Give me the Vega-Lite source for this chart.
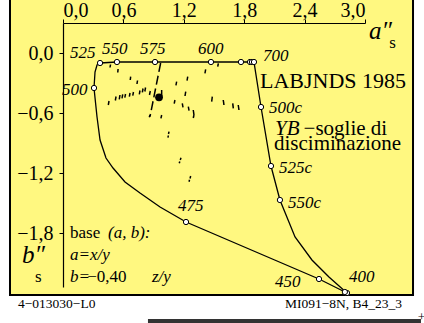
{
  "$schema": "https://vega.github.io/schema/vega-lite/v6.json",
  "width": 302,
  "height": 264,
  "autosize": "none",
  "padding": {"left": 63, "top": 23, "right": 59, "bottom": 36},
  "background": "white",
  "config": {
    "view": {"stroke": null},
    "axis": {
      "grid": false,
      "labelFont": "Liberation Serif",
      "labelFontSize": 20,
      "labelColor": "black",
      "domainColor": "black",
      "domainWidth": 1.2,
      "tickColor": "black",
      "tickSize": 4,
      "title": null
    },
    "text": {"font": "Liberation Serif", "align": "left", "baseline": "alphabetic", "color": "black"}
  },
  "datasets": {
    "bg": [{"a": -0.5265, "a2": 3.477, "b": 0.54, "b2": -2.42}],
    "bar": [{"a": 0.844, "a2": 3.556, "b": -2.66, "b2": -2.71}],
    "locus": [
      {"i": 1, "a": 2.821, "b": -2.40},
      {"i": 2, "a": 2.543, "b": -2.26},
      {"i": 3, "a": 1.222, "b": -1.69},
      {"i": 4, "a": 0.964, "b": -1.54},
      {"i": 5, "a": 0.765, "b": -1.40},
      {"i": 6, "a": 0.616, "b": -1.29},
      {"i": 7, "a": 0.497, "b": -1.15},
      {"i": 8, "a": 0.427, "b": -1.05},
      {"i": 9, "a": 0.368, "b": -0.87},
      {"i": 10, "a": 0.338, "b": -0.64},
      {"i": 11, "a": 0.308, "b": -0.35},
      {"i": 12, "a": 0.318, "b": -0.19},
      {"i": 13, "a": 0.338, "b": -0.12},
      {"i": 14, "a": 0.368, "b": -0.10},
      {"i": 15, "a": 0.536, "b": -0.09},
      {"i": 16, "a": 0.914, "b": -0.09},
      {"i": 17, "a": 1.470, "b": -0.09},
      {"i": 18, "a": 1.768, "b": -0.09},
      {"i": 19, "a": 1.858, "b": -0.09},
      {"i": 20, "a": 1.877, "b": -0.09},
      {"i": 21, "a": 1.897, "b": -0.09},
      {"i": 22, "a": 1.967, "b": -0.54},
      {"i": 23, "a": 2.066, "b": -1.13},
      {"i": 24, "a": 2.155, "b": -1.47},
      {"i": 25, "a": 2.305, "b": -1.84},
      {"i": 26, "a": 2.473, "b": -2.07},
      {"i": 27, "a": 2.642, "b": -2.24},
      {"i": 28, "a": 2.821, "b": -2.40}
    ],
    "pts": [
      {"a": 2.821, "b": -2.40},
      {"a": 2.800, "b": -2.39},
      {"a": 2.543, "b": -2.26},
      {"a": 1.222, "b": -1.69},
      {"a": 0.308, "b": -0.35},
      {"a": 0.368, "b": -0.10},
      {"a": 0.536, "b": -0.09},
      {"a": 0.914, "b": -0.09},
      {"a": 1.470, "b": -0.09},
      {"a": 1.768, "b": -0.09},
      {"a": 1.858, "b": -0.09},
      {"a": 1.877, "b": -0.09},
      {"a": 1.897, "b": -0.09},
      {"a": 1.967, "b": -0.54},
      {"a": 2.066, "b": -1.13},
      {"a": 2.155, "b": -1.47}
    ],
    "dashes": [
      {"a": 0.472, "b": -0.115, "a2": 0.467, "b2": -0.145},
      {"a": 0.547, "b": -0.16, "a2": 0.544, "b2": -0.195},
      {"a": 0.672, "b": -0.237, "a2": 0.668, "b2": -0.27},
      {"a": 0.740, "b": -0.275, "a2": 0.735, "b2": -0.31},
      {"a": 0.457, "b": -0.48, "a2": 0.450, "b2": -0.52},
      {"a": 0.527, "b": -0.435, "a2": 0.520, "b2": -0.475},
      {"a": 0.566, "b": -0.42, "a2": 0.559, "b2": -0.463},
      {"a": 0.593, "b": -0.413, "a2": 0.586, "b2": -0.453},
      {"a": 0.621, "b": -0.41, "a2": 0.614, "b2": -0.447},
      {"a": 0.666, "b": -0.40, "a2": 0.659, "b2": -0.437},
      {"a": 0.700, "b": -0.39, "a2": 0.693, "b2": -0.427},
      {"a": 0.765, "b": -0.375, "a2": 0.758, "b2": -0.413},
      {"a": 0.795, "b": -0.355, "a2": 0.788, "b2": -0.393},
      {"a": 0.820, "b": -0.345, "a2": 0.813, "b2": -0.385},
      {"a": 0.867, "b": -0.38, "a2": 0.859, "b2": -0.42},
      {"a": 0.980, "b": -0.37, "a2": 0.980, "b2": -0.437},
      {"a": 1.129, "b": -0.287, "a2": 1.122, "b2": -0.323},
      {"a": 1.239, "b": -0.237, "a2": 1.232, "b2": -0.277},
      {"a": 1.219, "b": -0.387, "a2": 1.212, "b2": -0.43},
      {"a": 1.112, "b": -0.47, "a2": 1.105, "b2": -0.507},
      {"a": 1.185, "b": -0.503, "a2": 1.192, "b2": -0.543},
      {"a": 1.245, "b": -0.537, "a2": 1.252, "b2": -0.577},
      {"a": 1.294, "b": -0.57, "a2": 1.301, "b2": -0.62},
      {"a": 1.417, "b": -0.163, "a2": 1.410, "b2": -0.203},
      {"a": 1.543, "b": -0.103, "a2": 1.537, "b2": -0.137},
      {"a": 1.483, "b": -0.437, "a2": 1.477, "b2": -0.487},
      {"a": 1.592, "b": -0.47, "a2": 1.599, "b2": -0.52},
      {"a": 1.686, "b": -0.503, "a2": 1.692, "b2": -0.553},
      {"a": 1.741, "b": -0.52, "a2": 1.748, "b2": -0.57},
      {"a": 0.980, "b": -0.62, "a2": 0.973, "b2": -0.653},
      {"a": 0.864, "b": -0.62, "a2": 0.857, "b2": -0.643},
      {"a": 1.301, "b": -0.62, "a2": 1.294, "b2": -0.65},
      {"a": 1.053, "b": -0.787, "a2": 1.048, "b2": -0.81},
      {"a": 1.046, "b": -0.825, "a2": 1.043, "b2": -0.847},
      {"a": 1.172, "b": -1.047, "a2": 1.165, "b2": -1.07},
      {"a": 1.160, "b": -1.085, "a2": 1.155, "b2": -1.103},
      {"a": 1.268, "b": -1.23, "a2": 1.262, "b2": -1.255},
      {"a": 1.257, "b": -1.268, "a2": 1.252, "b2": -1.287}
    ],
    "longdash": [{"a": 0.970, "b": -0.10, "a2": 0.864, "b2": -0.637}],
    "dot": [{"a": 0.954, "b": -0.443}],
    "lblIt": [
      {"t": "525", "a": 0.07, "b": -0.05},
      {"t": "550", "a": 0.387, "b": -0.01},
      {"t": "575", "a": 0.765, "b": -0.01},
      {"t": "600", "a": 1.341, "b": -0.01},
      {"t": "700", "a": 1.987, "b": -0.08},
      {"t": "500", "a": -0.01, "b": -0.42},
      {"t": "500c", "a": 2.046, "b": -0.60},
      {"t": "525c", "a": 2.146, "b": -1.20},
      {"t": "550c", "a": 2.235, "b": -1.55},
      {"t": "475", "a": 1.142, "b": -1.58},
      {"t": "450", "a": 2.106, "b": -2.34},
      {"t": "400", "a": 2.84, "b": -2.29}
    ],
    "bigIt": [
      {"t": "a″", "a": 3.04, "b": 0.14},
      {"t": "b″", "a": -0.407, "b": -2.10}
    ],
    "subs": [
      {"t": "s", "a": 3.24, "b": 0.05},
      {"t": "s", "a": -0.278, "b": -2.29}
    ],
    "annUp": [
      {"t": "base", "a": 0.07, "b": -1.85},
      {"t": "−0,40", "a": 0.24, "b": -2.29}
    ],
    "annIt": [
      {"t": "(a, b):", "a": 0.447, "b": -1.85},
      {"t": "a=x/y", "a": 0.07, "b": -2.07},
      {"t": "b=", "a": 0.07, "b": -2.29},
      {"t": "z/y", "a": 0.884, "b": -2.29}
    ],
    "labj": [{"t": "LABJNDS 1985", "a": 1.957, "b": -0.35}],
    "ybIt": [{"t": "YB", "a": 2.106, "b": -0.82}],
    "ybUp": [
      {"t": "−soglie di", "a": 2.39, "b": -0.82},
      {"t": "disciminazione", "a": 2.096, "b": -0.97}
    ],
    "foot": [
      {"t": "4−013030−L0", "a": -0.447, "b": -2.55},
      {"t": "MI091−8N, B4_23_3", "a": 2.205, "b": -2.55},
      {"t": "+", "a": 3.525, "b": -2.675}
    ]
  },
  "encoding": {
    "x": {
      "field": "a",
      "type": "quantitative",
      "scale": {"domain": [0, 3], "nice": false, "zero": false},
      "axis": {
        "orient": "top",
        "zindex": 2,
        "values": [0, 0.6, 1.2, 1.8, 2.4, 3.0],
        "labelExpr": "replace(format(datum.value, '.1f'), '.', ',')",
        "labelBaseline": "alphabetic",
        "labelPadding": 3,
        "labelDx": -4
      }
    },
    "y": {
      "field": "b",
      "type": "quantitative",
      "scale": {"domain": [-2.34, 0.3], "nice": false, "zero": false},
      "axis": {
        "orient": "left",
        "zindex": 2,
        "values": [0, -0.6, -1.2, -1.8],
        "labelExpr": "replace(format(datum.value, '.1f'), '.', ',')",
        "labelPadding": 6
      }
    }
  },
  "layer": [
    {
      "data": {"name": "bg"},
      "mark": {"type": "rect", "fill": "#fff880", "stroke": "black", "strokeWidth": 2, "clip": false},
      "encoding": {"x2": {"field": "a2"}, "y2": {"field": "b2"}}
    },
    {
      "data": {"name": "bar"},
      "mark": {"type": "rect", "fill": "#333333", "clip": false},
      "encoding": {"x2": {"field": "a2"}, "y2": {"field": "b2"}}
    },
    {
      "data": {"name": "dashes"},
      "mark": {"type": "rule", "color": "black", "strokeWidth": 1.5, "clip": false},
      "encoding": {"x2": {"field": "a2"}, "y2": {"field": "b2"}}
    },
    {
      "data": {"name": "longdash"},
      "mark": {"type": "rule", "color": "black", "strokeWidth": 1.5, "strokeDash": [9, 4], "clip": false},
      "encoding": {"x2": {"field": "a2"}, "y2": {"field": "b2"}}
    },
    {
      "data": {"name": "locus"},
      "mark": {"type": "line", "color": "black", "strokeWidth": 1.3, "clip": false},
      "encoding": {"order": {"field": "i", "type": "quantitative"}}
    },
    {
      "data": {"name": "pts"},
      "mark": {"type": "point", "shape": "circle", "filled": true, "fill": "white", "stroke": "black", "strokeWidth": 1, "size": 28, "opacity": 1, "clip": false},
      "encoding": {}
    },
    {
      "data": {"name": "dot"},
      "mark": {"type": "point", "shape": "circle", "filled": true, "fill": "black", "size": 60, "opacity": 1, "clip": false},
      "encoding": {}
    },
    {
      "data": {"name": "lblIt"},
      "mark": {"type": "text", "fontStyle": "italic", "fontSize": 17, "clip": false},
      "encoding": {"text": {"field": "t"}}
    },
    {
      "data": {"name": "bigIt"},
      "mark": {"type": "text", "fontStyle": "italic", "fontSize": 25, "clip": false},
      "encoding": {"text": {"field": "t"}}
    },
    {
      "data": {"name": "subs"},
      "mark": {"type": "text", "fontSize": 17, "clip": false},
      "encoding": {"text": {"field": "t"}}
    },
    {
      "data": {"name": "annUp"},
      "mark": {"type": "text", "fontSize": 17, "clip": false},
      "encoding": {"text": {"field": "t"}}
    },
    {
      "data": {"name": "annIt"},
      "mark": {"type": "text", "fontStyle": "italic", "fontSize": 17, "clip": false},
      "encoding": {"text": {"field": "t"}}
    },
    {
      "data": {"name": "labj"},
      "mark": {"type": "text", "fontSize": 22, "clip": false},
      "encoding": {"text": {"field": "t"}}
    },
    {
      "data": {"name": "ybIt"},
      "mark": {"type": "text", "fontStyle": "italic", "fontSize": 21, "clip": false},
      "encoding": {"text": {"field": "t"}}
    },
    {
      "data": {"name": "ybUp"},
      "mark": {"type": "text", "fontSize": 21, "clip": false},
      "encoding": {"text": {"field": "t"}}
    },
    {
      "data": {"name": "foot"},
      "mark": {"type": "text", "fontSize": 13.5, "clip": false},
      "encoding": {"text": {"field": "t"}}
    }
  ]
}
